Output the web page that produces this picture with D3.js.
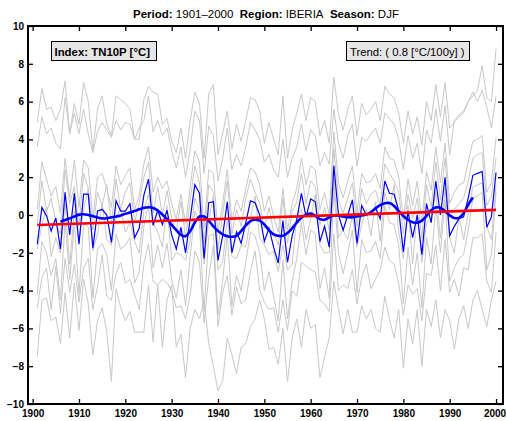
<!DOCTYPE html>
<html><head><meta charset="utf-8">
<script src="https://cdn.jsdelivr.net/npm/d3@7"></script>
<style>
body{margin:0;background:#fff}
svg{display:block}
text{font-family:Arial,"Liberation Sans",Helvetica,sans-serif}
</style>
</head><body>
<svg id="c" width="506" height="421"></svg>
<script>
// ---------- data ----------
const firstYear = 1901, lastYear = 2000;
const years = d3.range(firstYear, lastYear + 1);
const xTicks = [1900,1910,1920,1930,1940,1950,1960,1970,1980,1990,2000];
const yTicks = [-10,-8,-6,-4,-2,0,2,4,6,8,10];

// regional mean (blue thin line)
const regional = [
 -1.55,0.4,-0.05,-0.85,-0.15,-1.8,1.2,-1.05,1.15,-1.55,
 1.1,1.1,-1.75,0.2,0.3,0.0,-1.45,0.75,0.2,0.2,
 0.6,-1.2,-0.7,1.05,1.9,-0.55,0.25,-0.5,0.25,-1.05,
 -1.8,-0.65,-2.0,-0.2,1.6,1.15,-2.3,0.65,0.7,-2.4,
 -1.1,0.7,-2.0,-0.9,-1.5,-0.4,0.75,0.65,0.0,-1.4,
 -0.7,-1.7,-2.55,-0.3,-2.5,-1.1,-0.25,1.15,-0.1,0.85,
 0.7,-1.4,-0.6,-1.7,2.6,0.0,-0.8,0.0,0.8,-1.5,
 0.5,0.0,0.1,0.4,-0.2,1.8,1.15,1.1,0.25,-1.95,
 0.2,-1.2,0.0,-2.1,0.6,-0.4,1.8,0.0,2.0,-1.1,
 -0.6,-0.2,-0.1,0.9,2.1,2.2,2.3,-0.65,-0.1,2.25];

// smoothed regional mean (blue thick line), 1906-1995
const smoothFirst = 1906;
const smooth = [
 -0.35,-0.26,-0.18,-0.08,0.02,0.04,0.0,-0.06,-0.13,-0.18,
 -0.17,-0.12,-0.08,-0.02,0.06,0.13,0.21,0.30,0.38,0.41,
 0.37,0.24,0.02,-0.22,-0.52,-0.80,-1.05,-1.12,-0.85,-0.40,
 -0.08,-0.08,-0.30,-0.60,-0.85,-1.02,-1.12,-1.15,-1.10,-0.85,
 -0.55,-0.32,-0.25,-0.30,-0.50,-0.80,-1.02,-1.10,-1.10,-0.95,
 -0.70,-0.40,-0.15,0.02,0.08,-0.05,-0.22,-0.25,-0.12,-0.03,
 -0.03,-0.08,-0.12,-0.12,-0.08,-0.02,0.02,0.15,0.35,0.52,
 0.62,0.63,0.48,0.20,-0.05,-0.25,-0.38,-0.41,-0.30,-0.05,
 0.25,0.40,0.38,0.20,-0.02,-0.16,-0.15,0.10,0.55,0.92];

// linear trend end values
const trendYears = [1901, 2000];
const trendValues = [-0.53, 0.27];

// station series (grey)
const station1 = [
 4.9,6.7,5.6,5.7,5.0,5.6,7.1,4.3,5.9,4.8,
 7.0,6.0,3.4,5.6,6.3,4.8,4.2,6.3,6.1,5.9,
 5.6,4.0,4.0,6.1,6.8,6.5,6.4,4.8,5.1,3.9,
 3.3,4.6,3.0,5.0,6.5,5.9,3.0,6.4,6.9,3.2,
 4.3,5.5,3.5,4.8,3.9,5.0,6.2,6.1,5.5,3.8,
 4.9,4.0,3.2,6.3,3.0,4.5,5.4,6.4,5.0,6.2,
 6.0,4.2,5.0,3.8,7.3,5.3,4.5,5.6,6.3,4.2,
 5.9,5.3,5.6,6.0,5.0,6.8,6.4,6.2,5.4,3.8,
 5.5,4.3,5.2,3.7,6.0,5.0,6.9,5.2,7.0,4.6,
 4.9,5.2,5.4,6.0,6.3,6.6,7.9,6.2,6.0,8.8];
const station2 = [
 3.6,5.2,4.3,4.6,3.8,3.5,6.2,4.3,5.4,4.3,
 5.6,4.3,3.3,4.4,4.9,4.5,4.1,5.0,4.5,4.9,
 4.8,4.0,4.6,5.0,6.3,4.4,5.0,4.2,4.6,3.4,
 2.5,3.6,2.0,3.5,5.5,5.0,2.2,4.7,4.2,1.8,
 3.0,4.6,2.4,3.2,2.6,3.6,4.9,4.5,4.0,2.8,
 3.2,2.4,2.0,4.0,2.0,3.0,3.6,4.8,3.4,4.5,
 4.2,2.6,3.3,2.7,5.6,3.8,3.0,4.2,4.8,2.6,
 4.1,3.9,4.3,4.6,3.8,5.4,5.1,4.8,4.0,2.4,
 4.2,3.0,3.8,2.2,4.5,3.8,5.6,3.9,5.8,3.2,
 5.0,5.3,5.5,6.0,6.5,6.0,6.6,5.7,4.6,6.3];
const station3 = [
 0.3,2.8,1.9,1.0,1.5,0.1,3.0,0.9,2.9,0.4,
 2.9,2.5,-0.2,2.0,2.2,1.4,0.4,2.6,1.6,2.1,
 2.5,0.3,1.0,2.7,3.6,1.2,2.0,1.4,1.8,0.6,
 -0.2,1.1,-0.5,1.5,3.4,2.8,-0.7,2.4,2.2,-0.9,
 0.6,2.4,-0.3,0.8,0.2,1.4,2.5,2.3,1.6,0.2,
 1.0,-0.1,-0.9,1.4,-0.8,0.6,1.4,3.0,1.6,2.6,
 2.4,0.3,1.2,0.0,4.4,1.7,0.9,1.8,2.6,0.1,
 2.2,1.7,1.8,2.2,1.4,3.6,3.0,2.9,2.0,-0.3,
 1.9,0.5,1.8,-0.4,2.3,1.3,3.6,1.7,3.8,0.6,
 1.2,1.6,1.7,2.8,3.9,4.0,4.2,1.2,1.7,4.1];
const station4 = [
 -0.5,1.8,0.2,0.9,-0.4,-1.0,2.4,0.6,1.5,-0.6,
 2.2,1.4,-0.8,1.2,0.5,1.6,-0.5,1.9,0.3,1.2,
 1.7,-0.4,0.6,2.0,2.8,0.1,1.5,0.0,1.3,-0.2,
 -0.9,0.7,-1.2,0.8,2.6,1.7,-1.5,1.6,1.2,-1.8,
 0.0,1.8,-1.0,0.3,-0.6,0.9,1.9,1.2,0.6,-0.7,
 0.4,-0.9,-1.6,0.9,-1.5,0.2,0.7,2.2,0.6,1.8,
 1.5,-0.5,0.4,-0.8,3.5,0.8,0.1,0.9,1.7,-0.6,
 1.4,0.6,1.1,1.3,0.5,2.7,2.2,1.8,1.2,-1.0,
 1.1,-0.2,0.9,-1.2,1.6,0.4,2.8,0.8,3.0,-0.1,
 0.3,0.6,0.9,1.8,3.0,3.2,3.3,0.5,1.0,3.0];
const station5 = [
 -1.8,-0.5,0.4,-2.2,-1.2,-2.0,0.6,-2.6,0.2,-1.4,
 0.3,1.4,-1.9,-1.0,0.6,-1.3,-1.6,-0.2,0.4,-0.9,
 -0.4,-1.4,-2.0,0.2,1.1,-0.4,-0.9,-1.7,0.5,-2.4,
 -2.0,-2.1,-2.4,-1.3,0.9,0.2,-2.6,-0.3,1.0,-2.9,
 -2.5,-0.2,-2.2,-2.3,-1.6,-1.7,-0.2,1.0,-1.2,-1.6,
 -2.1,-1.9,-3.0,-1.6,-2.9,-2.6,-0.1,0.3,-1.3,-0.2,
 1.1,-1.6,-2.0,-2.0,1.9,-1.2,-0.8,-1.3,0.0,-1.7,
 -0.5,0.3,-1.1,0.7,-1.4,1.2,0.3,1.6,-0.9,-2.3,
 0.5,-2.6,0.2,-2.5,-0.4,-0.3,1.2,-1.2,1.4,-1.2,
 -2.0,-0.1,-1.3,0.1,1.5,1.6,1.7,-0.6,-1.3,1.6];
const station6 = [
 -4.2,-1.4,-2.0,-3.2,-2.3,-4.5,-0.3,-3.4,-0.4,-4.2,
 -0.5,-0.6,-4.4,-1.8,-1.5,-2.1,-4.0,-1.0,-1.8,-1.6,
 -1.2,-3.6,-3.0,-0.6,0.6,-2.8,-1.6,-2.8,-1.5,-3.4,
 -4.4,-2.9,-4.8,-2.2,0.2,-0.4,-5.1,-1.1,-1.0,-5.3,
 -3.5,-1.0,-4.8,-3.2,-4.0,-2.5,-0.9,-1.1,-2.0,-4.0,
 -3.0,-4.3,-5.6,-2.4,-5.5,-3.5,-2.3,-0.4,-2.1,-0.8,
 -1.0,-3.9,-2.8,-4.4,1.4,-2.0,-3.1,-2.0,-0.8,-4.1,
 -1.3,-2.0,-1.9,-1.4,-2.3,0.5,-0.4,-0.5,-1.6,-4.7,
 -1.7,-3.7,-2.0,-4.9,-1.2,-2.6,0.5,-2.0,0.8,-3.5,
 -2.8,-2.3,-2.1,-0.8,0.9,1.0,1.2,-2.9,-2.1,1.2];
const station7 = [
 -4.9,-3.3,-2.8,-5.0,-2.7,-5.2,-2.3,-4.1,-2.6,-4.6,
 -2.8,-2.3,-5.0,-3.8,-2.1,-4.3,-4.5,-3.1,-2.5,-3.6,
 -3.4,-4.2,-5.0,-2.6,-1.5,-3.5,-3.7,-3.4,-3.6,-4.0,
 -4.9,-4.8,-5.5,-4.2,-1.9,-2.5,-5.7,-3.3,-1.6,-5.9,
 -4.1,-3.2,-5.3,-3.8,-4.7,-4.5,-3.0,-1.9,-4.0,-4.6,
 -5.0,-4.9,-6.2,-4.5,-6.1,-4.0,-4.3,-2.5,-2.7,-2.9,
 -3.0,-4.5,-4.7,-5.1,-1.0,-4.0,-3.7,-3.9,-2.9,-4.7,
 -3.3,-2.6,-3.9,-3.4,-2.9,-1.7,-2.4,-2.6,-3.6,-5.3,
 -3.7,-4.2,-3.9,-5.6,-3.1,-3.2,-1.6,-4.0,-1.3,-4.1,
 -3.4,-4.3,-2.8,-2.9,-1.2,-1.2,-1.0,-3.5,-4.1,-0.9];
const station8 = [
 -7.5,-4.5,-4.4,-5.6,-5.4,-6.8,-4.1,-6.5,-3.6,-6.1,
 -3.4,-4.7,-7.4,-5.6,-4.9,-6.2,-8.8,-3.9,-4.9,-5.6,
 -5.1,-6.2,-6.2,-6.2,-3.7,-6.7,-3.7,-7.0,-4.5,-3.7,
 -7.0,-6.3,-8.6,-6.0,-5.0,-5.5,-4.5,-6.8,-8.0,-9.3,
 -8.8,-6.5,-7.4,-8.4,-7.0,-6.8,-5.9,-5.5,-4.5,-5.5,
 -7.1,-7.0,-7.9,-6.0,-8.8,-6.5,-5.5,-7.0,-5.0,-6.0,
 -5.8,-8.6,-7.5,-6.5,-3.5,-5.0,-6.3,-5.0,-6.2,-6.2,
 -4.8,-5.5,-5.0,-6.0,-6.2,-4.3,-5.5,-6.5,-5.0,-8.1,
 -5.5,-6.8,-5.0,-8.0,-5.0,-5.9,-4.5,-6.5,-5.0,-5.6,
 -7.1,-5.5,-4.8,-6.0,-4.5,-4.0,-5.0,-5.9,-4.5,-3.5];
const stations = [station1,station2,station3,station4,station5,station6,station7,station8];

const titleParts = [
  ["Period:", true], ["\u00A01901\u20132000\u00A0\u00A0", false],
  ["Region:", true], ["\u00A0IBERIA\u00A0\u00A0", false],
  ["Season:", true], ["\u00A0DJF", false]];
const indexLabel = "Index: TN10P [\u00B0C]";
const trendLabel = "Trend: ( 0.8 [\u00B0C/100y] )";

// ---------- chart ----------
const svg = d3.select("#c");
const L = 28, R = 503, T = 26, B = 404;
const x = d3.scaleLinear().domain([1899, 2001.5]).range([L, R]);
const y = d3.scaleLinear().domain([-10, 10]).range([B, T]);

// title
const title = svg.append("text").attr("x", 266).attr("y", 17.5)
  .attr("text-anchor", "middle").attr("font-size", 11.5);
titleParts.forEach(([t, b]) => title.append("tspan")
  .attr("font-weight", b ? "bold" : "normal").text(t));

const plot = svg.append("g");
const line = d3.line().defined(d => d[1] != null).x(d => x(d[0])).y(d => y(d[1]));

stations.forEach(s => {
  plot.append("path").datum(years.map((yr, i) => [yr, s[i]]))
    .attr("d", line).attr("fill", "none")
    .attr("stroke", "#c8c8c8").attr("stroke-width", 1);
});

plot.append("path").datum(years.map((yr, i) => [yr, regional[i]]))
  .attr("d", line).attr("fill", "none")
  .attr("stroke", "#0000ff").attr("stroke-width", 1.2);

plot.append("path").datum(smooth.map((v, i) => [smoothFirst + i, v]))
  .attr("d", d3.line().curve(d3.curveCatmullRom).x(d => x(d[0])).y(d => y(d[1])))
  .attr("fill", "none").attr("stroke", "#0000ff").attr("stroke-width", 2.6);

plot.append("path").datum(trendYears.map((yr, i) => [yr, trendValues[i]]))
  .attr("d", line).attr("fill", "none")
  .attr("stroke", "#ff0000").attr("stroke-width", 2.6);

// axes
const fmt = d3.format("d");
const axB = svg.append("g").attr("transform", `translate(0,${B})`)
  .call(d3.axisBottom(x).tickValues(xTicks).tickSize(-5).tickPadding(6).tickFormat(fmt));
const axT = svg.append("g").attr("transform", `translate(0,${T})`)
  .call(d3.axisTop(x).tickValues(xTicks).tickSize(-5).tickFormat(""));
const axLf = svg.append("g").attr("transform", `translate(${L},0)`)
  .call(d3.axisLeft(y).tickValues(yTicks).tickSize(-5).tickPadding(4).tickFormat(fmt));
const axRt = svg.append("g").attr("transform", `translate(${R},0)`)
  .call(d3.axisRight(y).tickValues(yTicks).tickSize(-5).tickFormat(""));
[axB, axT, axLf, axRt].forEach(a => {
  a.select(".domain").remove();
  a.selectAll(".tick line").attr("stroke", "#000").attr("stroke-width", 1.3);
  a.selectAll("text").attr("font-size", 10).attr("font-weight", "bold")
    .attr("fill", "#000").attr("font-family", "Arial, 'Liberation Sans', sans-serif");
});
// keep the last year label inside the page
axB.selectAll(".tick text").filter(d => d === 2000).attr("dx", -1.5);

svg.append("rect").attr("x", L).attr("y", T).attr("width", R - L).attr("height", B - T)
  .attr("fill", "none").attr("stroke", "#000").attr("stroke-width", 2);

// label boxes
svg.append("rect").attr("x", 51.5).attr("y", 41.5).attr("width", 105).attr("height", 19)
  .attr("fill", "#e6e6e6").attr("stroke", "#000").attr("stroke-width", 1);
svg.append("text").attr("x", 54.5).attr("y", 55.5).attr("font-size", 11.4)
  .attr("font-weight", "bold").text(indexLabel);
svg.append("rect").attr("x", 346.5).attr("y", 41.5).attr("width", 123).attr("height", 19)
  .attr("fill", "#e6e6e6").attr("stroke", "#000").attr("stroke-width", 1);
svg.append("text").attr("x", 350).attr("y", 55.5).attr("font-size", 11.3)
  .text(trendLabel);
</script>
</body></html>
